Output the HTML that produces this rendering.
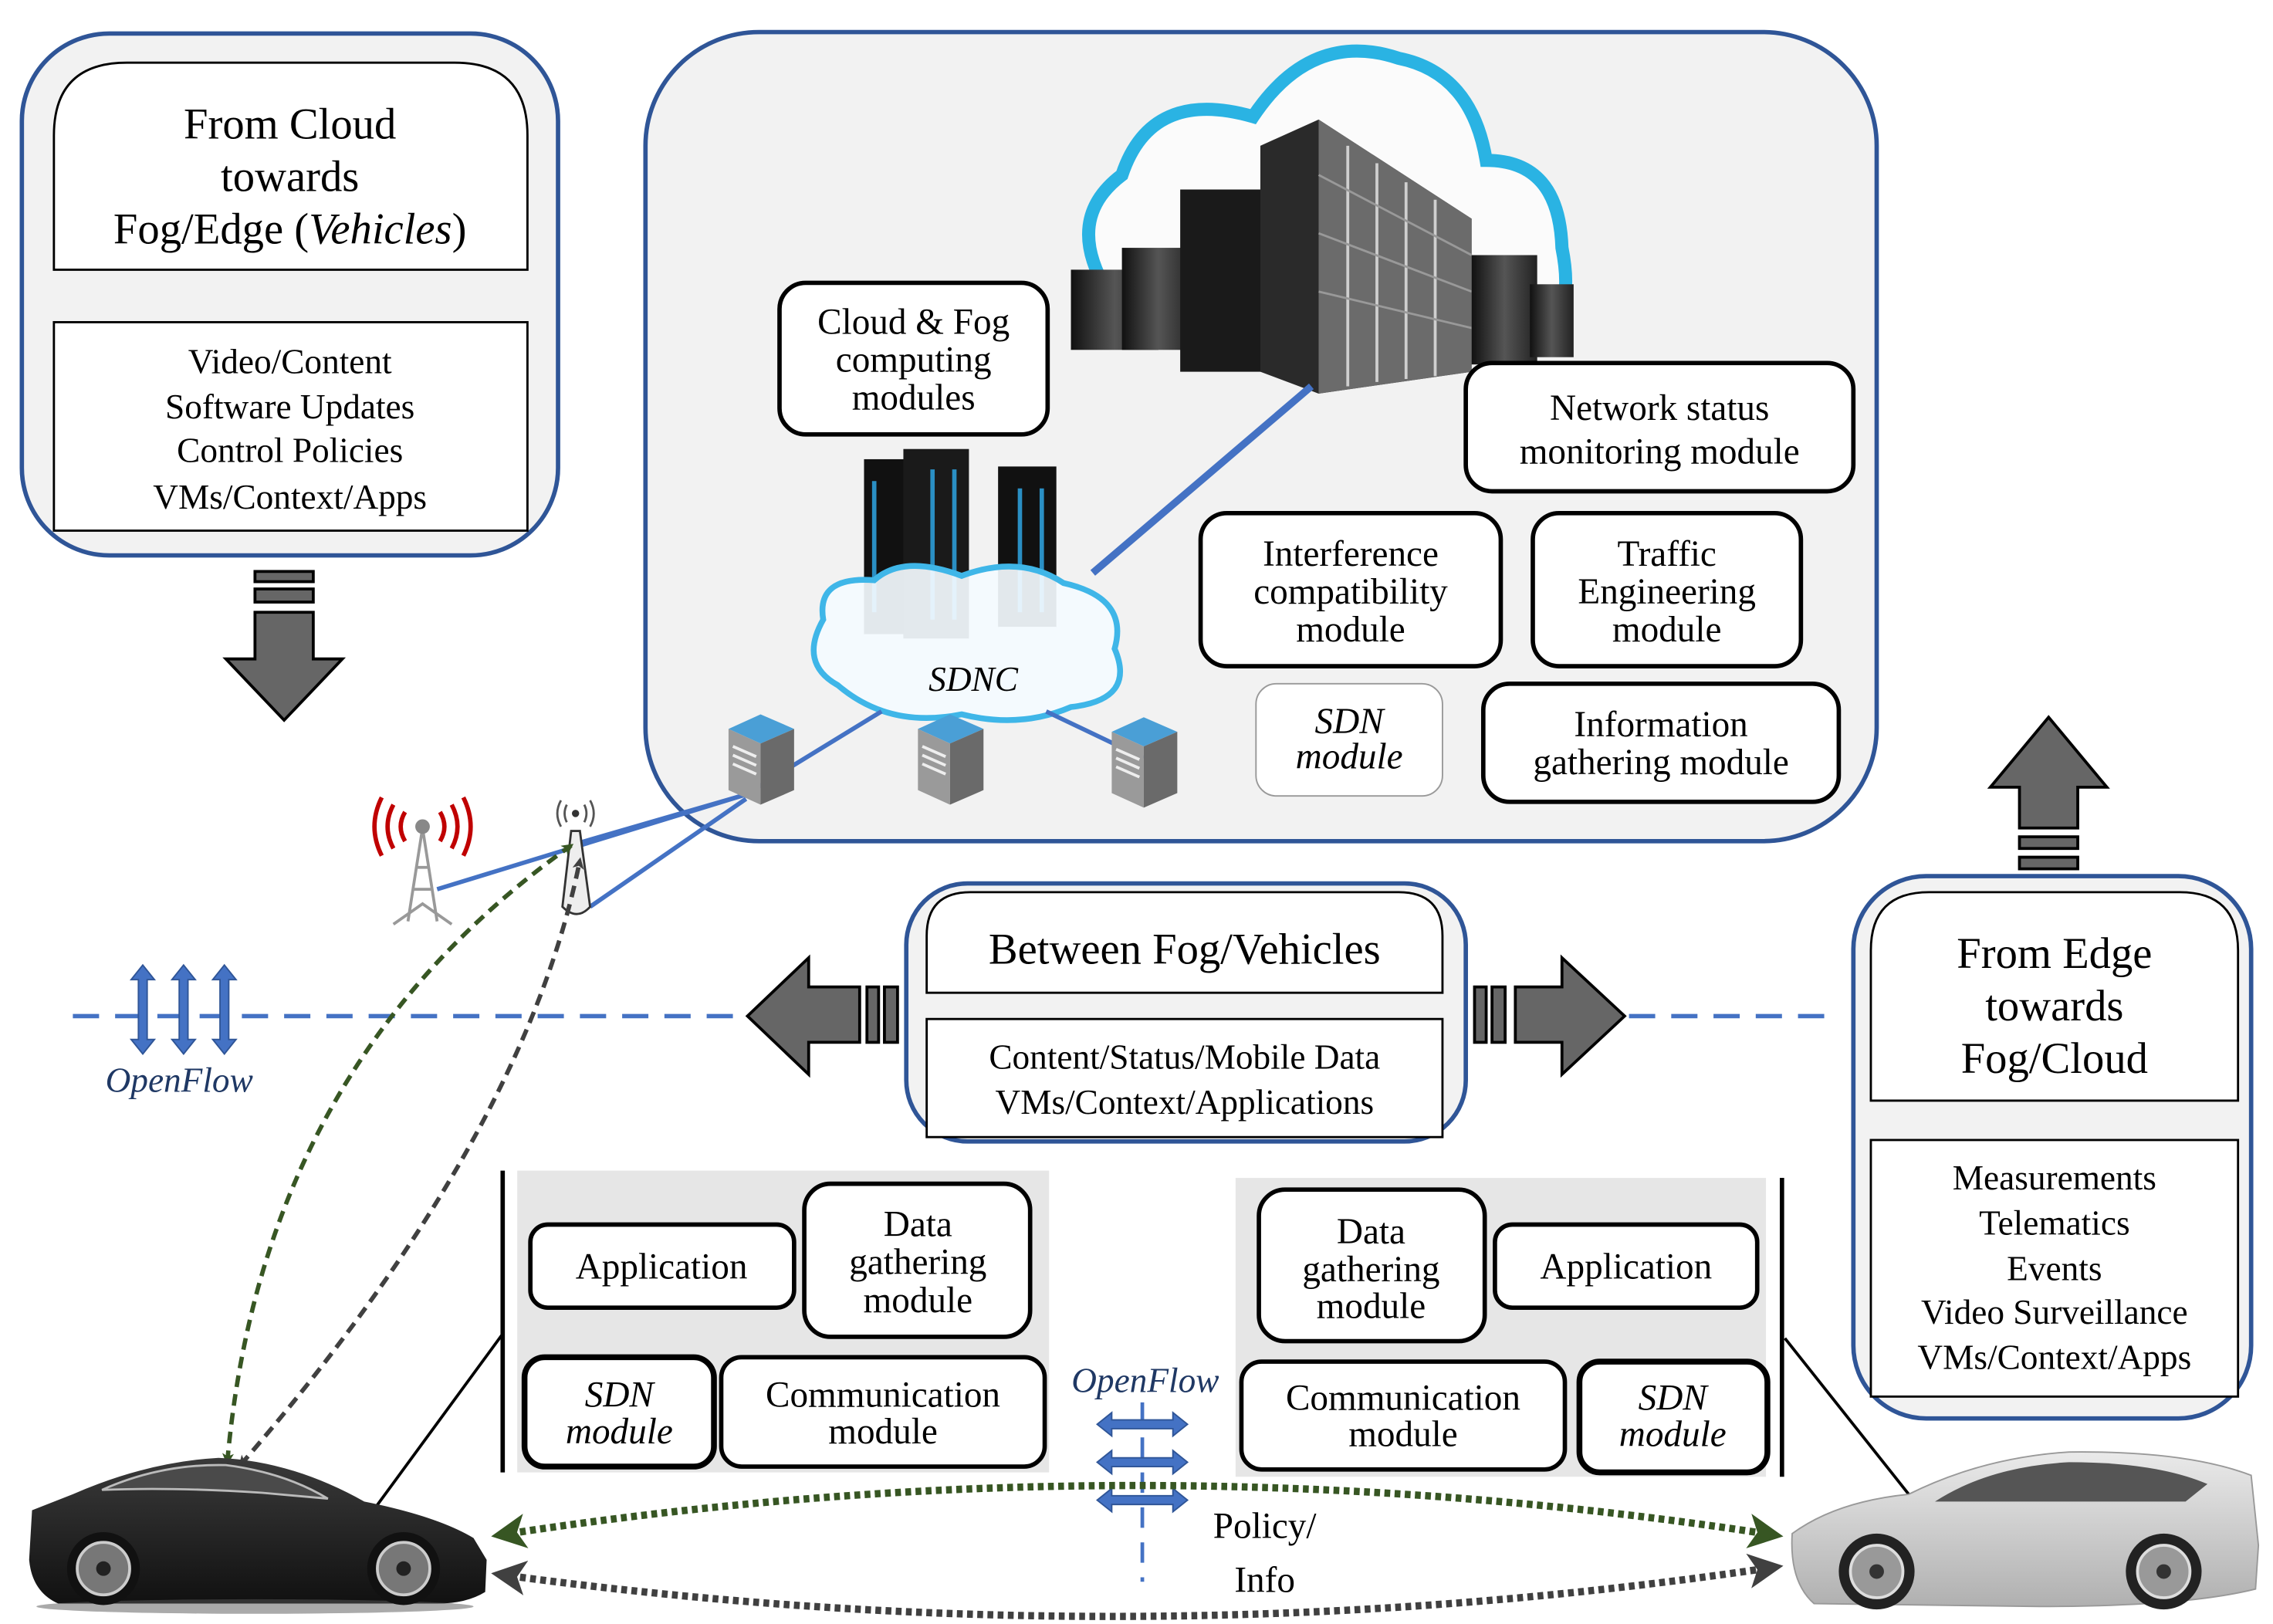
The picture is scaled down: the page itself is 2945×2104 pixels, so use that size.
<!DOCTYPE html>
<html><head><meta charset="utf-8"><style>
html,body{margin:0;padding:0;background:#fff;}
svg{display:block;}
text{font-family:"Liberation Serif",serif;fill:#000;}
</style></head><body>
<svg width="2945" height="2104" viewBox="0 0 1560 1114" preserveAspectRatio="none" xmlns="http://www.w3.org/2000/svg">
<defs>
<marker id="ag" markerWidth="8" markerHeight="8" refX="6" refY="4" orient="auto-start-reverse" markerUnits="userSpaceOnUse"><path d="M0,0 L8,4 L0,8 L2,4 Z" fill="#375623"/></marker>
<marker id="ak" markerWidth="8" markerHeight="8" refX="6" refY="4" orient="auto-start-reverse" markerUnits="userSpaceOnUse"><path d="M0,0 L8,4 L0,8 L2,4 Z" fill="#404040"/></marker>
<marker id="bg" markerWidth="24" markerHeight="24" refX="18" refY="12" orient="auto-start-reverse" markerUnits="userSpaceOnUse"><path d="M0,0 L24,12 L0,24 L6,12 Z" fill="#375623"/></marker>
<marker id="bk" markerWidth="24" markerHeight="24" refX="18" refY="12" orient="auto-start-reverse" markerUnits="userSpaceOnUse"><path d="M0,0 L24,12 L0,24 L6,12 Z" fill="#404040"/></marker>
<linearGradient id="srv" x1="0" x2="1"><stop offset="0" stop-color="#111"/><stop offset="0.5" stop-color="#555"/><stop offset="1" stop-color="#222"/></linearGradient>
<linearGradient id="car1" x1="0" y1="0" x2="0" y2="1"><stop offset="0" stop-color="#3a3a3a"/><stop offset="1" stop-color="#111"/></linearGradient>
<linearGradient id="car2" x1="0" y1="0" x2="0" y2="1"><stop offset="0" stop-color="#eaeaea"/><stop offset="1" stop-color="#b0b0b0"/></linearGradient>
</defs>

<!-- top-left box -->
<rect x="15" y="23" width="368" height="358" rx="60" fill="#f2f2f2" stroke="#2f5597" stroke-width="3"/>
<path d="M37,185 L37,93 Q37,43 87,43 L312,43 Q362,43 362,93 L362,185 Z" fill="#fff" stroke="#000" stroke-width="1.5"/>
<g font-size="30" text-anchor="middle">
<text x="199" y="95">From Cloud</text><text x="199" y="131">towards</text>
<text x="199" y="167">Fog/Edge (<tspan font-style="italic">Vehicles</tspan>)</text></g>
<rect x="37" y="221" width="325" height="143" fill="#fff" stroke="#000" stroke-width="1.5"/>
<g font-size="24" text-anchor="middle">
<text x="199" y="256">Video/Content</text><text x="199" y="287">Software Updates</text>
<text x="199" y="317">Control Policies</text><text x="199" y="349">VMs/Context/Apps</text></g>

<!-- down arrow -->
<g fill="#666" stroke="#000" stroke-width="2">
<rect x="175" y="392" width="40" height="7"/><rect x="175" y="404" width="40" height="9"/>
<path d="M175,420 L215,420 L215,452 L235,452 L195,494 L155,452 L175,452 Z"/></g>

<!-- central box -->
<rect x="443" y="22" width="845" height="555" rx="78" fill="#f2f2f2" stroke="#2f5597" stroke-width="3"/>
<path d="M760,200 Q730,150 770,120 Q790,60 860,80 Q900,20 960,40 Q1010,50 1020,110 Q1070,110 1072,170 Q1078,200 1070,215" fill="#fbfbfb" stroke="#2ab3e3" stroke-width="9"/>
<g>
<rect x="735" y="185" width="60" height="55" fill="url(#srv)"/>
<rect x="770" y="170" width="50" height="70" fill="url(#srv)"/>
<rect x="810" y="130" width="60" height="125" fill="#1a1a1a"/>
<path d="M865,100 L905,82 L1010,150 L1010,255 L905,270 L865,255 Z" fill="#2a2a2a"/>
<path d="M905,82 L1010,150 L1010,255 L905,270 Z" fill="#6b6b6b"/>
<g stroke="#cfcfcf" stroke-width="2">
<line x1="925" y1="100" x2="925" y2="265"/><line x1="945" y1="112" x2="945" y2="262"/><line x1="965" y1="125" x2="965" y2="260"/><line x1="985" y1="137" x2="985" y2="258"/></g>
<g stroke="#999" stroke-width="1.5">
<line x1="905" y1="120" x2="1010" y2="175"/><line x1="905" y1="160" x2="1010" y2="200"/><line x1="905" y1="200" x2="1010" y2="225"/></g>
<rect x="1010" y="175" width="45" height="75" fill="url(#srv)"/>
<rect x="1050" y="195" width="30" height="50" fill="url(#srv)"/>
</g>
<line x1="750" y1="393" x2="900" y2="265" stroke="#4472c4" stroke-width="5"/>

<g stroke="#000" stroke-width="3" fill="#fff">
<rect x="535" y="194" width="184" height="104" rx="18"/>
<rect x="1006" y="249" width="266" height="88" rx="18"/>
<rect x="824" y="352" width="206" height="105" rx="18"/>
<rect x="1052" y="352" width="184" height="105" rx="18"/>
<rect x="1018" y="469" width="244" height="81" rx="18"/>
</g>
<rect x="862" y="469" width="128" height="77" rx="14" fill="#fff" stroke="#999" stroke-width="1"/>
<g font-size="25" text-anchor="middle">
<text x="627" y="229">Cloud &amp; Fog</text><text x="627" y="255">computing</text><text x="627" y="281">modules</text>
<text x="1139" y="288">Network status</text><text x="1139" y="318">monitoring module</text>
<text x="927" y="388">Interference</text><text x="927" y="414">compatibility</text><text x="927" y="440">module</text>
<text x="1144" y="388">Traffic</text><text x="1144" y="414">Engineering</text><text x="1144" y="440">module</text>
<text x="1140" y="505">Information</text><text x="1140" y="531">gathering module</text>
<text x="926" y="503" font-style="italic">SDN</text><text x="926" y="527" font-style="italic">module</text>
</g>

<!-- SDNC -->
<g>
<rect x="593" y="315" width="40" height="120" fill="#111"/><rect x="620" y="308" width="45" height="130" fill="#1a1a1a"/><rect x="685" y="320" width="40" height="110" fill="#111"/>
<g stroke="#2a8fc4" stroke-width="3">
<line x1="600" y1="330" x2="600" y2="420"/><line x1="640" y1="322" x2="640" y2="425"/><line x1="655" y1="322" x2="655" y2="425"/><line x1="700" y1="335" x2="700" y2="420"/><line x1="715" y1="335" x2="715" y2="420"/></g>
<path d="M575,470 Q548,455 565,425 Q560,395 600,398 Q620,380 660,395 Q700,380 730,400 Q775,410 765,445 Q780,480 735,485 Q700,500 660,490 Q610,500 575,470 Z" fill="#f4fbff" fill-opacity="0.92" stroke="#3fb6e8" stroke-width="4"/>
<text x="668" y="474" font-size="24" font-style="italic" text-anchor="middle">SDNC</text>
</g>
<g stroke="#4472c4" stroke-width="3">
<line x1="605" y1="488" x2="520" y2="540"/><line x1="718" y1="488" x2="785" y2="520"/>
<line x1="300" y1="610" x2="512" y2="545"/><line x1="398" y1="578" x2="512" y2="545"/><line x1="405" y1="622" x2="512" y2="548"/>
</g>
<g>
<g transform="translate(500,490)"><path d="M0,10 L22,0 L45,10 L22,20 Z" fill="#4a9fd6"/><path d="M0,10 L22,20 L22,62 L0,52 Z" fill="#9a9a9a"/><path d="M22,20 L45,10 L45,52 L22,62 Z" fill="#6a6a6a"/><g stroke="#eee" stroke-width="2"><line x1="3" y1="22" x2="19" y2="29"/><line x1="3" y1="28" x2="19" y2="35"/><line x1="3" y1="34" x2="19" y2="41"/></g></g>
<g transform="translate(630,490)"><path d="M0,10 L22,0 L45,10 L22,20 Z" fill="#4a9fd6"/><path d="M0,10 L22,20 L22,62 L0,52 Z" fill="#9a9a9a"/><path d="M22,20 L45,10 L45,52 L22,62 Z" fill="#6a6a6a"/><g stroke="#eee" stroke-width="2"><line x1="3" y1="22" x2="19" y2="29"/><line x1="3" y1="28" x2="19" y2="35"/><line x1="3" y1="34" x2="19" y2="41"/></g></g>
<g transform="translate(763,492)"><path d="M0,10 L22,0 L45,10 L22,20 Z" fill="#4a9fd6"/><path d="M0,10 L22,20 L22,62 L0,52 Z" fill="#9a9a9a"/><path d="M22,20 L45,10 L45,52 L22,62 Z" fill="#6a6a6a"/><g stroke="#eee" stroke-width="2"><line x1="3" y1="22" x2="19" y2="29"/><line x1="3" y1="28" x2="19" y2="35"/><line x1="3" y1="34" x2="19" y2="41"/></g></g>
</g>

<!-- towers -->
<g stroke="#999" stroke-width="2" fill="none">
<path d="M280,632 L290,568 L300,632 M283,610 L297,610 M285,595 L295,595 M270,634 L290,620 L310,634"/></g>
<circle cx="290" cy="567" r="5" fill="#888"/>
<g stroke="#c00000" stroke-width="3" fill="none">
<path d="M278,557 Q272,567 278,577"/><path d="M270,552 Q262,567 270,582"/><path d="M262,547 Q252,567 262,587"/>
<path d="M302,557 Q308,567 302,577"/><path d="M310,552 Q318,567 310,582"/><path d="M318,547 Q328,567 318,587"/></g>
<g stroke="#555" stroke-width="1.5" fill="none">
<path d="M389,552 Q386,558 389,564"/><path d="M385,549 Q380,558 385,567"/><path d="M401,552 Q404,558 401,564"/><path d="M405,549 Q410,558 405,567"/></g>
<path d="M392,570 L398,570 L405,622 Q396,632 386,622 Z" fill="#eee" stroke="#333" stroke-width="1.5"/>
<circle cx="395" cy="558" r="2.5" fill="#333"/>

<!-- dashed openflow line -->
<g stroke="#4472c4" stroke-width="3" stroke-dasharray="18 11">
<line x1="50" y1="697" x2="520" y2="697"/><line x1="1118" y1="697" x2="1262" y2="697"/></g>
<g fill="#4472c4" stroke="#2f5597" stroke-width="1">
<path d="M98,662 L106,672 L101,672 L101,713 L106,713 L98,723 L90,713 L95,713 L95,672 L90,672 Z"/>
<path d="M126,662 L134,672 L129,672 L129,713 L134,713 L126,723 L118,713 L123,713 L123,672 L118,672 Z"/>
<path d="M154,662 L162,672 L157,672 L157,713 L162,713 L154,723 L146,713 L151,713 L151,672 L146,672 Z"/></g>
<text x="123" y="749" font-size="24" font-style="italic" text-anchor="middle" style="fill:#1f3864">OpenFlow</text>

<!-- middle box -->
<rect x="622" y="606" width="384" height="177" rx="42" fill="#f2f2f2" stroke="#2f5597" stroke-width="3"/>
<path d="M636,681 L636,642 Q636,612 666,612 L960,612 Q990,612 990,642 L990,681 Z" fill="#fff" stroke="#000" stroke-width="1.5"/>
<rect x="636" y="699" width="354" height="81" fill="#fff" stroke="#000" stroke-width="1.5"/>
<text x="813" y="661" font-size="30" text-anchor="middle">Between Fog/Vehicles</text>
<text x="813" y="733" font-size="24" text-anchor="middle">Content/Status/Mobile Data</text>
<text x="813" y="764" font-size="24" text-anchor="middle">VMs/Context/Applications</text>

<!-- side arrows -->
<g fill="#666" stroke="#000" stroke-width="2">
<rect x="595" y="677" width="8" height="38"/><rect x="607" y="677" width="9" height="38"/>
<path d="M590,677 L555,677 L555,657 L513,697 L555,737 L555,715 L590,715 Z"/>
<rect x="1012" y="677" width="8" height="38"/><rect x="1024" y="677" width="9" height="38"/>
<path d="M1040,677 L1072,677 L1072,657 L1115,697 L1072,737 L1072,715 L1040,715 Z"/>
<path d="M1386,596 L1386,588 L1426,588 L1426,596 Z"/><path d="M1386,582 L1386,574 L1426,574 L1426,582 Z"/>
<path d="M1386,568 L1386,540 L1366,540 L1406,492 L1446,540 L1426,540 L1426,568 Z"/>
</g>

<!-- right box -->
<rect x="1272" y="601" width="273" height="372" rx="50" fill="#f2f2f2" stroke="#2f5597" stroke-width="3"/>
<path d="M1284,755 L1284,652 Q1284,612 1324,612 L1496,612 Q1536,612 1536,652 L1536,755 Z" fill="#fff" stroke="#000" stroke-width="1.5"/>
<rect x="1284" y="782" width="252" height="176" fill="#fff" stroke="#000" stroke-width="1.5"/>
<g font-size="30" text-anchor="middle"><text x="1410" y="664">From Edge</text><text x="1410" y="700">towards</text><text x="1410" y="736">Fog/Cloud</text></g>
<g font-size="24" text-anchor="middle"><text x="1410" y="816">Measurements</text><text x="1410" y="847">Telematics</text><text x="1410" y="878">Events</text><text x="1410" y="908">Video Surveillance</text><text x="1410" y="939">VMs/Context/Apps</text></g>

<!-- vehicle panels -->
<rect x="355" y="803" width="365" height="207" fill="#e6e6e6"/>
<line x1="345" y1="803" x2="345" y2="1010" stroke="#000" stroke-width="3"/>
<rect x="848" y="808" width="364" height="205" fill="#e6e6e6"/>
<line x1="1223" y1="808" x2="1223" y2="1013" stroke="#000" stroke-width="3"/>
<g stroke="#000" stroke-width="3" fill="#fff">
<rect x="364" y="840" width="181" height="57" rx="12"/>
<rect x="552" y="812" width="155" height="105" rx="18"/>
<rect x="360" y="931" width="130" height="75" rx="14" stroke-width="4"/>
<rect x="495" y="931" width="222" height="75" rx="14"/>
<rect x="864" y="816" width="155" height="104" rx="18"/>
<rect x="1026" y="840" width="180" height="57" rx="12"/>
<rect x="852" y="934" width="222" height="74" rx="14"/>
<rect x="1084" y="934" width="129" height="76" rx="14" stroke-width="4"/>
</g>
<g font-size="25" text-anchor="middle">
<text x="454" y="877">Application</text>
<text x="630" y="848">Data</text><text x="630" y="874">gathering</text><text x="630" y="900">module</text>
<text x="425" y="965" font-style="italic">SDN</text><text x="425" y="990" font-style="italic">module</text>
<text x="606" y="965">Communication</text><text x="606" y="990">module</text>
<text x="941" y="853">Data</text><text x="941" y="879">gathering</text><text x="941" y="904">module</text>
<text x="1116" y="877">Application</text>
<text x="963" y="967">Communication</text><text x="963" y="992">module</text>
<text x="1148" y="967" font-style="italic">SDN</text><text x="1148" y="992" font-style="italic">module</text>
</g>
<line x1="257" y1="1035" x2="345" y2="915" stroke="#000" stroke-width="2"/>
<line x1="1225" y1="918" x2="1310" y2="1025" stroke="#000" stroke-width="2"/>

<!-- middle openflow -->
<text x="786" y="955" font-size="24" font-style="italic" text-anchor="middle" style="fill:#1f3864">OpenFlow</text>
<line x1="784" y1="962" x2="784" y2="1085" stroke="#4472c4" stroke-width="2.5" stroke-dasharray="14 10"/>
<g fill="#4472c4" stroke="#2f5597" stroke-width="1">
<path d="M753,977 L763,969 L763,974 L805,974 L805,969 L815,977 L805,985 L805,980 L763,980 L763,985 Z"/>
<path d="M753,1003 L763,995 L763,1000 L805,1000 L805,995 L815,1003 L805,1011 L805,1006 L763,1006 L763,1011 Z"/>
<path d="M753,1029 L763,1021 L763,1026 L805,1026 L805,1021 L815,1029 L805,1037 L805,1032 L763,1032 L763,1037 Z"/></g>
<text x="868" y="1055" font-size="25" text-anchor="middle">Policy/</text>
<text x="868" y="1092" font-size="25" text-anchor="middle">Info</text>

<!-- dashed curves -->
<path d="M343,1053 Q780,985 1218,1053" fill="none" stroke="#375623" stroke-width="5" stroke-dasharray="4 3" marker-start="url(#bg)" marker-end="url(#bg)"/>
<path d="M343,1080 Q780,1140 1218,1075" fill="none" stroke="#404040" stroke-width="5" stroke-dasharray="4 3" marker-start="url(#bk)" marker-end="url(#bk)"/>
<path d="M156,1003 Q180,730 392,580" fill="none" stroke="#375623" stroke-width="3" stroke-dasharray="8 5" marker-start="url(#ag)" marker-end="url(#ag)"/>
<path d="M165,1005 Q360,780 398,590" fill="none" stroke="#404040" stroke-width="3" stroke-dasharray="8 5" marker-start="url(#ak)" marker-end="url(#ak)"/>

<!-- left car -->
<g>
<path d="M22,1036 L50,1025 Q100,1003 150,1000 Q200,1002 250,1030 Q300,1040 325,1055 L334,1070 L333,1092 Q320,1100 300,1100 L40,1100 Q22,1092 20,1070 Z" fill="url(#car1)"/>
<path d="M70,1022 Q110,1004 155,1005 Q195,1010 225,1028 L180,1024 Q120,1020 70,1022 Z" fill="#4a4a4a" stroke="#bbb" stroke-width="1.5"/>
<ellipse cx="175" cy="1102" rx="150" ry="5" fill="#555" opacity="0.5"/>
<circle cx="71" cy="1076" r="25" fill="#111"/><circle cx="71" cy="1076" r="18" fill="#777" stroke="#ccc" stroke-width="2"/><circle cx="71" cy="1076" r="5" fill="#222"/>
<circle cx="277" cy="1076" r="25" fill="#111"/><circle cx="277" cy="1076" r="18" fill="#777" stroke="#ccc" stroke-width="2"/><circle cx="277" cy="1076" r="5" fill="#222"/>
</g>
<!-- right car -->
<g>
<path d="M1230,1052 Q1260,1030 1310,1025 Q1360,1000 1420,996 Q1500,995 1545,1012 L1550,1060 L1548,1090 Q1500,1102 1400,1102 L1245,1100 Q1228,1085 1230,1052 Z" fill="url(#car2)" stroke="#999" stroke-width="1"/>
<path d="M1328,1030 Q1365,1006 1420,1003 Q1480,1003 1515,1018 L1500,1030 Z" fill="#555"/>
<circle cx="1288" cy="1078" r="26" fill="#222"/><circle cx="1288" cy="1078" r="18" fill="#999" stroke="#ddd" stroke-width="2"/><circle cx="1288" cy="1078" r="5" fill="#333"/>
<circle cx="1485" cy="1078" r="26" fill="#222"/><circle cx="1485" cy="1078" r="18" fill="#999" stroke="#ddd" stroke-width="2"/><circle cx="1485" cy="1078" r="5" fill="#333"/>
</g>
</svg>
</body></html>
